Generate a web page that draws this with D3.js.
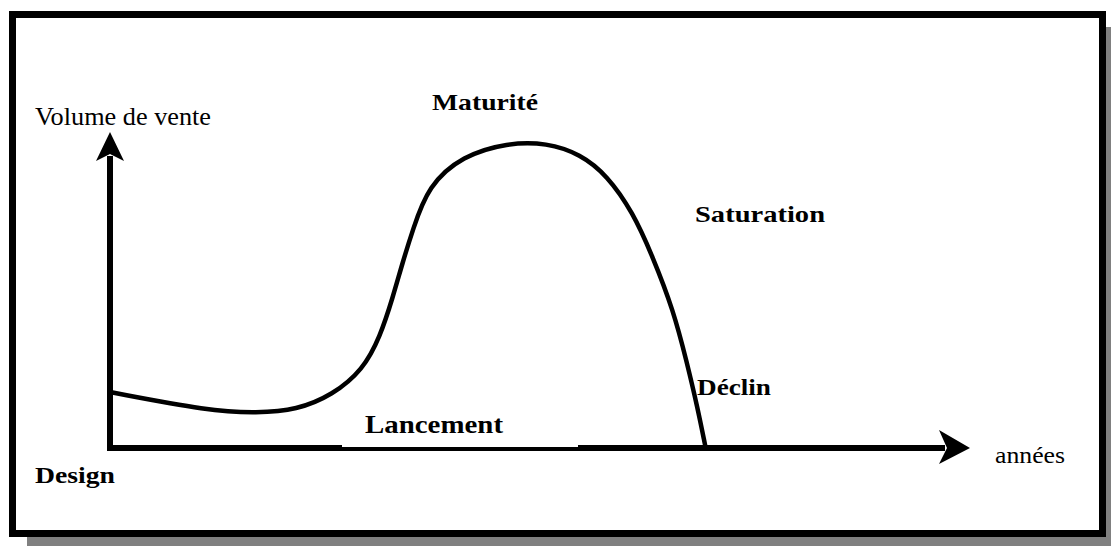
<!DOCTYPE html>
<html lang="fr">
<head>
  <meta charset="UTF-8">
  <title>Cycle de vie du produit</title>
  <script src="https://d3js.org/d3.v7.min.js"></script>
  <style>
    html, body { margin: 0; padding: 0; background: #fff; }
    svg { display: block; }
    text { font-family: "Liberation Serif", "Times New Roman", serif; fill: #000; }
    .curve { fill: none; stroke: #000; stroke-width: 4.5; stroke-linejoin: round; stroke-linecap: round; }
  </style>
</head>
<body>
  <svg id="chart" width="1111" height="546"></svg>

  <script>
    // curve (années 0..10, volume 0..10)
    const years  = [0, 1.16, 1.71, 2.17, 2.59, 2.94, 3.14, 3.29, 3.40, 3.52, 3.70, 4.10, 4.62, 5.08, 5.47, 5.78, 6.08, 6.31, 6.55, 6.71, 6.83, 6.92];
    const volume = [1.77, 1.17, 1.11, 1.20, 1.68, 2.47, 3.51, 4.78, 5.85, 6.90, 8.30, 9.25, 9.66, 9.66, 9.30, 8.63, 7.46, 6.06, 4.37, 2.69, 1.30, 0.09];

    const phases = ["Design", "Lancement", "Maturité", "Saturation", "Déclin"];
    const axisTitles = ["années", "Volume de vente"];

    const svg = d3.select("#chart");

    // frame with drop shadow
    svg.append("rect")
      .attr("x", 27).attr("y", 27)
      .attr("width", 1120).attr("height", 540)
      .attr("fill", "#808080");
    svg.append("rect")
      .attr("x", 12.5).attr("y", 14.5)
      .attr("width", 1090).attr("height", 519)
      .attr("fill", "#fff")
      .attr("stroke", "#000")
      .attr("stroke-width", 7);

    const x = d3.scaleLinear().domain([0, 10]).range([110, 970]);
    const y = d3.scaleLinear().domain([0, 10]).range([448, 132]);

    // axes
    const axisG = svg.append("g");
    axisG.append("line")
      .attr("x1", x(0) - 3).attr("x2", x(10) - 25)
      .attr("y1", y(0)).attr("y2", y(0))
      .attr("stroke", "#000").attr("stroke-width", 6);
    axisG.append("line")
      .attr("x1", x(0)).attr("x2", x(0))
      .attr("y1", y(0) + 3).attr("y2", y(10) + 24)
      .attr("stroke", "#000").attr("stroke-width", 6);

    // arrow heads
    const xt = x(10), yt = y(0);
    axisG.append("path")
      .attr("d", `M${xt},${yt} L${xt - 31},${yt - 18} L${xt - 23},${yt} L${xt - 31},${yt + 16} Z`)
      .attr("fill", "#000");
    const yx = x(0), yy = y(10);
    axisG.append("path")
      .attr("d", `M${yx},${yy} L${yx - 14},${yy + 29} L${yx},${yy + 22} L${yx + 14},${yy + 29} Z`)
      .attr("fill", "#000");

    // white box behind "Lancement" nibbles the top of the axis
    svg.append("rect")
      .attr("x", 342).attr("y", 410)
      .attr("width", 236).attr("height", 37)
      .attr("fill", "#fff");

    // life cycle curve
    const line = d3.line()
      .x((d, i) => x(years[i]))
      .y(d => y(d))
      .curve(d3.curveBasis);

    svg.append("path")
      .datum(volume)
      .attr("class", "curve")
      .attr("d", line);

    // labels
    const labelLayout = [
      { text: axisTitles[1], x: 35,  y: 125, size: 26, weight: "normal", w: 176 },
      { text: phases[2],     x: 432, y: 110, size: 23, weight: "bold",   w: 106 },
      { text: phases[3],     x: 695, y: 222, size: 23, weight: "bold",   w: 130 },
      { text: phases[4],     x: 697, y: 395, size: 24, weight: "bold",   w: 74 },
      { text: phases[1],     x: 365, y: 433, size: 25, weight: "bold",   w: 138 },
      { text: phases[0],     x: 35,  y: 483, size: 24, weight: "bold",   w: 80 },
      { text: axisTitles[0], x: 995, y: 463, size: 24, weight: "normal", w: 70 }
    ];

    svg.append("g")
      .selectAll("text")
      .data(labelLayout)
      .enter().append("text")
      .attr("x", d => d.x)
      .attr("y", d => d.y)
      .attr("font-size", d => d.size)
      .attr("font-weight", d => d.weight)
      .attr("textLength", d => d.w)
      .attr("lengthAdjust", "spacingAndGlyphs")
      .text(d => d.text);
  </script>
</body>
</html>
